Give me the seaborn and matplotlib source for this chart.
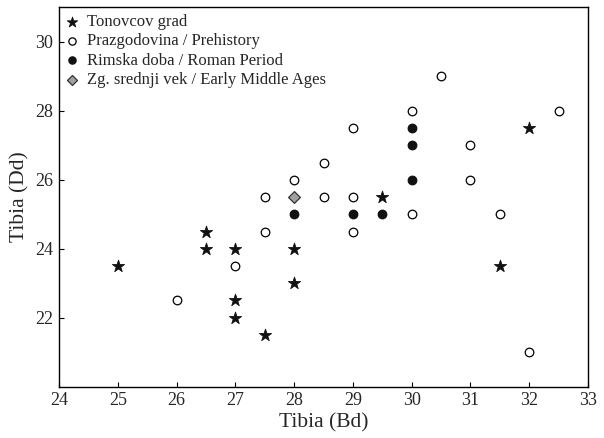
import numpy as np
import pandas as pd
import matplotlib
matplotlib.use("Agg")
import matplotlib.pyplot as plt
import seaborn as sns

# Tonovcov grad
tg_x = [25, 26.5, 26.5, 27, 27, 27, 27.5, 28, 28, 29.5, 31.5, 32]
tg_y = [23.5, 24.5, 24, 24, 22.5, 22, 21.5, 24, 23, 25.5, 23.5, 27.5]
# Prazgodovina / Prehistory
pre_x = [26, 27, 27.5, 27.5, 28, 28.5, 28.5, 29, 29, 29, 30, 30, 30.5, 31, 31, 31.5, 32, 32.5]
pre_y = [22.5, 23.5, 25.5, 24.5, 26, 26.5, 25.5, 27.5, 25.5, 24.5, 28, 25, 29, 27, 26, 25, 21, 28]
# Rimska doba / Roman Period
rom_x = [28, 29, 29.5, 30, 30, 30]
rom_y = [25, 25, 25, 27.5, 27, 26]
# Zg. srednji vek / Early Middle Ages
emv_x = [28]
emv_y = [25.5]

labels = ["Tonovcov grad", "Prazgodovina / Prehistory",
          "Rimska doba / Roman Period", "Zg. srednji vek / Early Middle Ages"]

sns.set_theme(style="white")
plt.rcParams["font.family"] = ["Liberation Serif", "DejaVu Serif"]

fig = plt.figure(figsize=(6.04, 4.38), dpi=100)
ax = fig.add_axes([0.0977, 0.1171, 0.9735 - 0.0977, 0.9833 - 0.1171])

groups = [
    (tg_x, tg_y, labels[0], dict(marker="*", s=85, color="#111111", edgecolor="#111111", linewidth=0.6)),
    (pre_x, pre_y, labels[1], dict(marker="o", s=38, color="white", edgecolor="black", linewidth=0.9)),
    (rom_x, rom_y, labels[2], dict(marker="o", s=38, color="#111111", edgecolor="#111111", linewidth=0.9)),
    (emv_x, emv_y, labels[3], dict(marker="D", s=36, color="#a0a0a0", edgecolor="#333333", linewidth=0.9)),
]
for xs, ys, lab, kw in groups:
    df = pd.DataFrame({"x": xs, "y": ys})
    sns.scatterplot(data=df, x="x", y="y", ax=ax, label=lab, zorder=3, **kw)

ax.set_xlim(24, 33)
ax.set_ylim(20, 31)
ax.set_xticks(range(24, 34))
ax.set_yticks([22, 24, 26, 28, 30])
ax.set_xlabel("Tibia (Bd)", fontsize=15.5, labelpad=3)
ax.set_ylabel("Tibia (Dd)", fontsize=15.5, labelpad=4)
ax.tick_params(axis="both", direction="in", length=3.5, width=0.8, color="black",
               labelsize=13, pad=4, bottom=True, left=True, top=False, right=False)
for sp in ax.spines.values():
    sp.set_color("black")
    sp.set_linewidth(1.0)

leg = ax.legend(loc="upper left", frameon=False, fontsize=12, handlelength=0.8,
                handletextpad=0.45, labelspacing=0.2, borderaxespad=0.2, borderpad=0.2,
                markerscale=0.85)

fig.savefig("out.png", dpi=100)
